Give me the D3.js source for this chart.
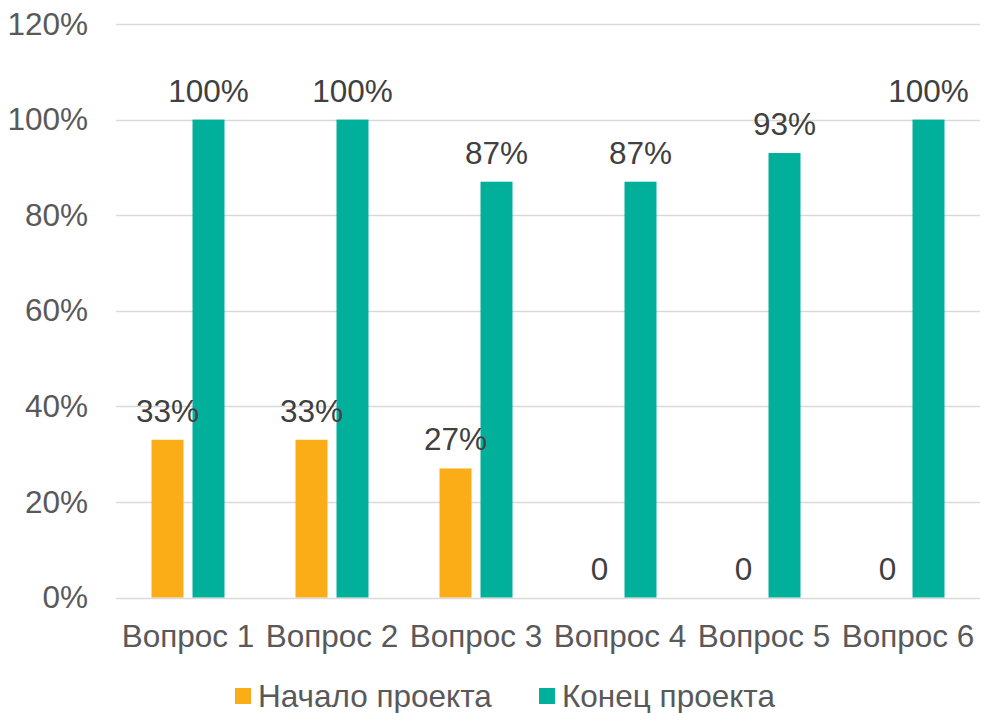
<!DOCTYPE html>
<html><head><meta charset="utf-8">
<script src="https://cdn.jsdelivr.net/npm/d3@7"></script>
<style>body{margin:0;background:#fff}svg{display:block}text{font-family:"Liberation Sans",Arial,sans-serif}</style>
</head><body>
<svg id="c" width="984" height="713"></svg>
<script>
const categories = ["Вопрос 1","Вопрос 2","Вопрос 3","Вопрос 4","Вопрос 5","Вопрос 6"];
const seriesNames = ["Начало проекта","Конец проекта"];
const startValues = [0.33,0.33,0.27,0,0,0];
const endValues = [1.00,1.00,0.87,0.87,0.93,1.00];
const yTicks = [0,0.2,0.4,0.6,0.8,1.0,1.2];
const colors = ["#FBAD18","#00B09B"];
const FS = 31.5;

const svg = d3.select("#c");
const y = d3.scaleLinear().domain([0,1.2]).range([597.5,24]);
const x0 = d3.scaleBand().domain(categories).range([116,980]).padding(0);
const x1 = d3.scaleBand().domain(seriesNames).range([35.5,108.5]).paddingInner(9/41);

// gridlines
svg.append("g").selectAll("line").data(yTicks).join("line")
  .attr("x1",116).attr("x2",980)
  .attr("y1",d=>Math.round(y(d))+0.5).attr("y2",d=>Math.round(y(d))+0.5)
  .attr("stroke","#D9D9D9").attr("stroke-width",1.5);

// y labels
const yAxis = d3.axisLeft(y).tickValues(yTicks).tickFormat(d=>Math.round(d*100)+"%").tickSize(0).tickPadding(0);
const gy = svg.append("g").attr("transform","translate(88,0)").call(yAxis);
gy.select(".domain").remove();
gy.selectAll("text").attr("font-size",FS).attr("fill","#595959").attr("font-family","Liberation Sans, Arial, sans-serif");

// x labels
const xAxis = d3.axisBottom(x0).tickSize(0).tickPadding(0);
const gx = svg.append("g").attr("transform","translate(0,624.5)").call(xAxis);
gx.select(".domain").remove();
gx.selectAll("text").attr("font-size",FS).attr("fill","#595959").attr("font-family","Liberation Sans, Arial, sans-serif").attr("dy","0.71em");

const rows = categories.map((c,i)=>({cat:c, vals:[{s:seriesNames[0],v:startValues[i]},{s:seriesNames[1],v:endValues[i]}]}));
const g = svg.append("g").selectAll("g").data(rows).join("g").attr("transform",d=>`translate(${x0(d.cat)},0)`);
g.selectAll("rect").data(d=>d.vals).join("rect")
  .attr("x",d=>x1(d.s)).attr("width",x1.bandwidth())
  .attr("y",d=>y(d.v)).attr("height",d=>y(0)-y(d.v))
  .attr("fill",(d,i)=>colors[i]);
g.selectAll("text").data(d=>d.vals).join("text")
  .attr("x",d=>x1(d.s)+x1.bandwidth()/2).attr("y",d=>y(d.v)-18)
  .attr("text-anchor","middle").attr("font-size",FS).attr("fill","#404040")
  .text(d=>d.v===0?"0":Math.round(d.v*100)+"%");

// legend
const leg = svg.append("g");
const legX = [235,539];
seriesNames.forEach((s,i)=>{
  leg.append("rect").attr("x",legX[i]).attr("y",688).attr("width",16).attr("height",16).attr("fill",colors[i]);
  leg.append("text").attr("x",legX[i]+23).attr("y",707).attr("font-size",FS).attr("fill","#595959").text(s);
});
</script>
</body></html>
